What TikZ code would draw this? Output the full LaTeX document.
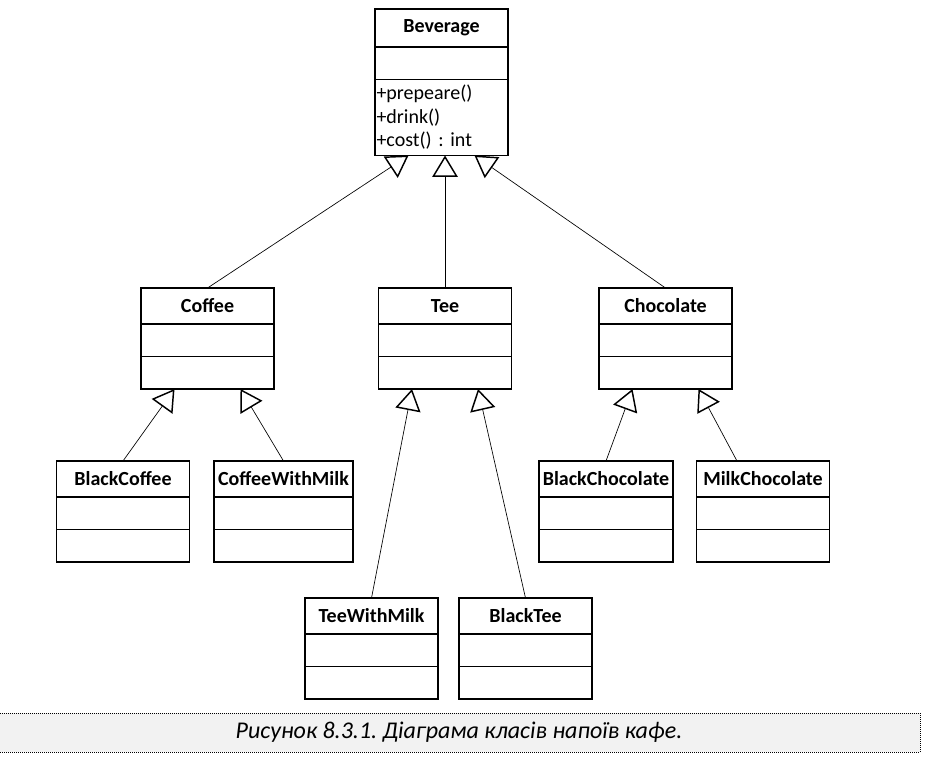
\documentclass[tikz,border=0pt]{standalone}
\usepackage{fontspec}
\setmainfont{Carlito}
\usetikzlibrary{arrows.meta,positioning}

\definecolor{capgray}{HTML}{F2F2F2}
\frenchspacing

\tikzset{
  classbox/.style={draw, line width=1.1pt, inner sep=0pt, outer sep=0pt,
    minimum width=133*0.75pt},
  classtitle/.style={classbox, minimum height=36*0.75pt,
    font=\fontsize{15}{17.6}\selectfont\bfseries},
  classpart/.style={classbox, minimum height=32.5*0.75pt},
  inherit/.style={line width=0.5pt,
    -{Triangle[open, length=16pt, width=19pt, line width=1.1pt]}},
  caption/.style={draw, fill=capgray, line width=0.75pt,
    dash pattern=on 0.75pt off 0.75pt, minimum width=922*0.75pt,
    minimum height=39*0.75pt, font=\fontsize{18}{20}\selectfont\itshape}
}

\begin{document}
\begin{tikzpicture}[x=0.75pt, y=-0.75pt]
  \useasboundingbox (0,0) rectangle (930,760);

  % base class
  \node[classtitle, minimum height=38*0.75pt, anchor=north] (bev) at (441.5,9) {Beverage};
  \node[classpart, below=0pt of bev] (bev-a) {};
  \node[classpart, below=0pt of bev-a, minimum height=76*0.75pt, align=left,
    text width=130*0.75pt, inner xsep=1.5*0.75pt,
    font=\fontsize{15}{17.6}\selectfont] (bev-m) {+prepeare()\\+drink()\\+cost() : int};

  % derived classes
  \foreach \name/\x/\y/\w/\title in {coffee/207.5/288/133/Coffee, tee/445/288/133/Tee,
      choc/665.5/288/133/Chocolate, blackcoffee/123/461/133/BlackCoffee,
      coffeemilk/283.5/461/139/CoffeeWithMilk, blackchoc/606/461/134/BlackChocolate,
      milkchoc/763/461/133/MilkChocolate, teemilk/371.5/598/133/TeeWithMilk,
      blacktee/525.5/598/133/BlackTee}
  {
    \node[classtitle, minimum width=\w*0.75pt, anchor=north] (\name) at (\x,\y) {\title};
    \node[classpart, minimum width=\w*0.75pt, below=0pt of \name] (\name-a) {};
    \node[classpart, minimum width=\w*0.75pt, below=0pt of \name-a] (\name-m) {};
  }

  % arrow tips on the parents
  \foreach \p in {bev,coffee,tee,choc}
    \path (\p-m.south) ++(-33,0) coordinate (\p-l) ++(66,0) coordinate (\p-r);
  \path (tee.north |- bev-m.south) coordinate (bev-c);
  \path (milkchoc.north) ++(-26,0) coordinate (milkchoc-top);

  \foreach \child/\tip in {coffee/bev-l, tee/bev-c, choc/bev-r,
      blackcoffee/coffee-l, coffeemilk/coffee-r, teemilk/tee-l, blacktee/tee-r,
      blackchoc/choc-l}
    \draw[inherit] (\child.north) -- (\tip);
  \draw[inherit] (milkchoc-top) -- (choc-r);

  \node[caption] (cap) at (459,732.5) {Рисунок 8.3.1. Діаграма класів напоїв кафе.};
\end{tikzpicture}
\end{document}
